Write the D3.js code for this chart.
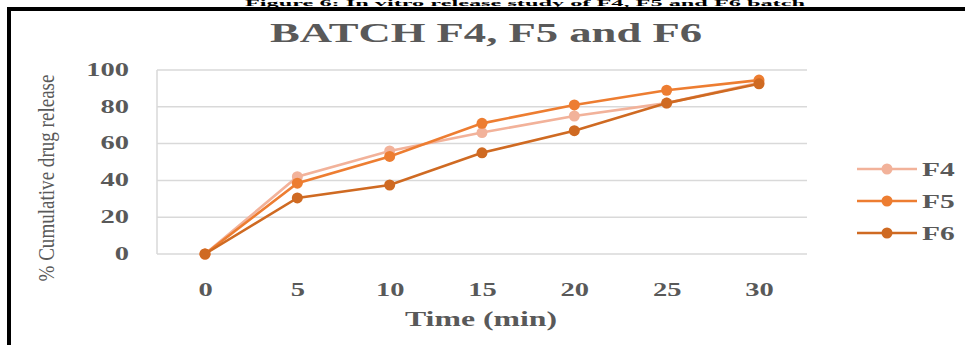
<!DOCTYPE html>
<html><head><meta charset="utf-8">
<script src="https://cdn.jsdelivr.net/npm/d3@7"></script>
<style>body{margin:0;background:#fff}svg{display:block}</style>
</head><body>
<svg id="c" width="965" height="345"></svg>
<script>
const times = [0, 5, 10, 15, 20, 25, 30];
const f4 = [0, 42, 56, 66, 75, 82, 93];
const f5 = [0, 38.5, 53, 71, 81, 89, 94.5];
const f6 = [0, 30.5, 37.5, 55, 67, 82, 92.5];
const yTicks = [0, 20, 40, 60, 80, 100];
const seriesNames = ["F4", "F5", "F6"];
const colors = ["#F2B29A", "#ED7D31", "#CF6A22"];

const svg = d3.select("#c");
const serif = "'Liberation Serif','Times New Roman',serif";
const grey = "#595959";

// widen text horizontally (reference glyphs are stretched)
function stretch(sel, f) {
  sel.each(function () {
    const w = this.getComputedTextLength();
    d3.select(this).attr("textLength", w * f).attr("lengthAdjust", "spacingAndGlyphs");
  });
}

// caption above frame (mostly cropped in the reference)
svg.append("text").attr("x", 525).attr("y", 6).attr("text-anchor", "middle")
  .attr("font-family", serif).attr("font-weight", "bold").attr("font-size", 8)
  .attr("fill", "#000").attr("textLength", 560).attr("lengthAdjust", "spacingAndGlyphs")
  .text("Figure 6: In vitro release study of F4, F5 and F6 batch");
// frame
svg.append("line").attr("x1", 7).attr("x2", 965).attr("y1", 9).attr("y2", 9).attr("stroke", "#000").attr("stroke-width", 4);
svg.append("line").attr("x1", 9).attr("x2", 9).attr("y1", 7).attr("y2", 345).attr("stroke", "#000").attr("stroke-width", 4);

const x = d3.scaleLinear().domain([-2.6, 32.6]).range([157, 807]);
const y = d3.scaleLinear().domain([0, 100]).range([254, 70]);

// gridlines
svg.append("g").selectAll("line").data(yTicks).join("line")
  .attr("x1", x(-2.6)).attr("x2", x(32.6)).attr("y1", d => y(d)).attr("y2", d => y(d))
  .attr("stroke", "#D9D9D9").attr("stroke-width", 1.5);
svg.append("line").attr("x1", x(-2.6)).attr("x2", x(-2.6)).attr("y1", y(100)).attr("y2", y(0))
  .attr("stroke", "#D9D9D9").attr("stroke-width", 1.5);

// axes
const yAxis = svg.append("g").attr("transform", `translate(${x(-2.6) - 28},0)`)
  .call(d3.axisLeft(y).tickValues(yTicks).tickSize(0).tickPadding(0));
yAxis.select(".domain").remove();
yAxis.selectAll("text").attr("font-family", serif).attr("font-weight", "bold")
  .attr("font-size", 19).attr("fill", grey).attr("dy", "0.28em");
stretch(yAxis.selectAll("text"), 1.5);

const xAxis = svg.append("g").attr("transform", `translate(0,${y(0) + 28})`)
  .call(d3.axisBottom(x).tickValues(times).tickSize(0).tickPadding(0).tickFormat(d3.format("d")));
xAxis.select(".domain").remove();
xAxis.selectAll("text").attr("font-family", serif).attr("font-weight", "bold")
  .attr("font-size", 19).attr("fill", grey);
stretch(xAxis.selectAll("text"), 1.5);

// titles
svg.append("text").attr("x", 486).attr("y", 42).attr("text-anchor", "middle")
  .attr("font-family", serif).attr("font-weight", "bold").attr("font-size", 27)
  .attr("fill", grey).attr("textLength", 432).attr("lengthAdjust", "spacingAndGlyphs")
  .text("BATCH F4, F5 and F6");
svg.append("text").attr("x", 481).attr("y", 326).attr("text-anchor", "middle")
  .attr("font-family", serif).attr("font-weight", "bold").attr("font-size", 20)
  .attr("fill", grey).attr("textLength", 152).attr("lengthAdjust", "spacingAndGlyphs")
  .text("Time (min)");
svg.append("text").attr("transform", "translate(54,178) rotate(-90)").attr("text-anchor", "middle")
  .attr("font-family", serif).attr("font-size", 23).attr("textLength", 207).attr("lengthAdjust", "spacingAndGlyphs")
  .attr("fill", grey).text("% Cumulative drug release");

// series
const data = [f4, f5, f6];
const line = d3.line().x((d, i) => x(times[i])).y(d => y(d));
data.forEach((s, k) => {
  const g = svg.append("g");
  g.append("path").datum(s).attr("d", line).attr("fill", "none")
    .attr("stroke", colors[k]).attr("stroke-width", 2.6);
  g.selectAll("circle").data(s).join("circle")
    .attr("cx", (d, i) => x(times[i])).attr("cy", d => y(d)).attr("r", 5.5).attr("fill", colors[k]);
});

// legend
const legY = [169, 201, 233];
seriesNames.forEach((n, k) => {
  svg.append("line").attr("x1", 857).attr("x2", 917).attr("y1", legY[k]).attr("y2", legY[k])
    .attr("stroke", colors[k]).attr("stroke-width", 2.6);
  svg.append("circle").attr("cx", 887).attr("cy", legY[k]).attr("r", 5.5).attr("fill", colors[k]);
  const t = svg.append("text").attr("x", 922).attr("y", legY[k] + 7).attr("font-family", serif)
    .attr("font-weight", "bold").attr("font-size", 19).attr("fill", grey).text(n);
  stretch(t, 1.55);
});
</script>
</body></html>
